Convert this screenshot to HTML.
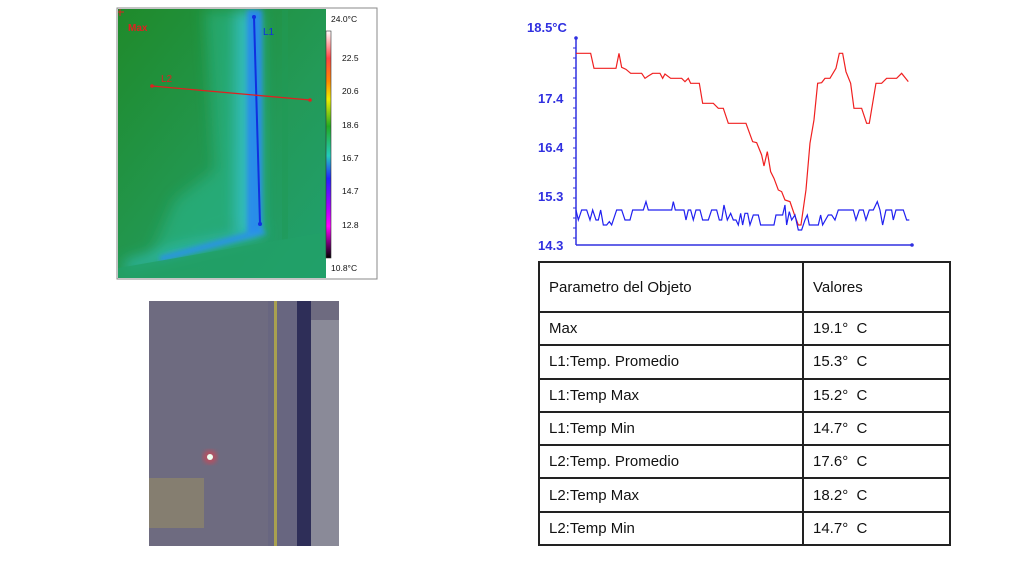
<!DOCTYPE html>
<html><head><meta charset="utf-8"><style>
html,body{margin:0;padding:0;background:#fff;width:1018px;height:567px;overflow:hidden}
svg{position:absolute;left:0;top:0}
table{position:absolute;left:538px;top:261px;width:413px;border-collapse:collapse;font-family:"Liberation Sans",sans-serif;font-size:15px;color:#111}
td{border:2px solid #222;padding:0 0 0 9px;height:31.3px}
tr.h td{height:48px}
</style></head><body>
<svg width="1018" height="567" viewBox="0 0 1018 567">
<defs>
<filter id="b" x="-20%" y="-20%" width="140%" height="140%"><feGaussianBlur stdDeviation="7"/></filter>
<filter id="b2"><feGaussianBlur stdDeviation="2.5"/></filter>
<linearGradient id="cb" x1="0" y1="0" x2="0" y2="1">
<stop offset="0" stop-color="#fff"/><stop offset="0.12" stop-color="#f44"/><stop offset="0.22" stop-color="#f80"/><stop offset="0.3" stop-color="#ee0"/><stop offset="0.42" stop-color="#2a2"/><stop offset="0.55" stop-color="#2cb"/><stop offset="0.65" stop-color="#22f"/><stop offset="0.78" stop-color="#a0f"/><stop offset="0.86" stop-color="#f0f"/><stop offset="1" stop-color="#000"/>
</linearGradient>
<linearGradient id="gbg" x1="0" y1="0" x2="1" y2="1">
<stop offset="0" stop-color="#1f8a2a"/><stop offset="0.6" stop-color="#239a58"/><stop offset="1" stop-color="#20a070"/>
</linearGradient>
<clipPath id="tc"><rect x="118" y="9" width="208" height="269"/></clipPath>
<clipPath id="pc"><rect x="149" y="301" width="190" height="245"/></clipPath>
</defs>
<rect x="117" y="8" width="260" height="271" fill="#fff" stroke="#888"/>
<g clip-path="url(#tc)">
<rect x="118" y="9" width="208" height="269" fill="url(#gbg)"/>
<g filter="url(#b)">
<polygon points="205,10 240,10 240,225 150,258 175,200 215,170" fill="#2ab890" opacity="0.55"/>
<polygon points="125,262 258,226 266,234 125,272" fill="#30c0c0" opacity="0.9"/>
<rect x="236" y="10" width="24" height="220" fill="#35c0c8" opacity="0.9"/>
</g>
<g filter="url(#b2)">
<rect x="247" y="10" width="15" height="222" fill="#2a88f0" opacity="0.9"/>
<polygon points="160,256 262,228 266,234 160,262" fill="#2a90ee" opacity="0.85"/>
</g>
<rect x="282" y="10" width="6" height="230" fill="#1f9a55" opacity="0.5"/>
<polygon points="118,268 326,232 326,278 118,278" fill="#22a068" opacity="0.8"/>
</g>
<line x1="254" y1="17" x2="260" y2="224" stroke="#1030e0" stroke-width="2"/>
<circle cx="254" cy="17" r="2" fill="#1030e0"/><circle cx="260" cy="224" r="2" fill="#1030e0"/>
<line x1="152" y1="86" x2="310" y2="100" stroke="#e02020" stroke-width="1.3"/>
<circle cx="152" cy="86" r="1.8" fill="#e02020"/><circle cx="310" cy="100" r="1.8" fill="#e02020"/>
<text x="263" y="35" font-family="Liberation Sans" font-size="10" fill="#1030e0">L1</text>
<text x="161" y="82" font-family="Liberation Sans" font-size="10" fill="#e02020">L2</text>
<text x="128" y="31" font-family="Liberation Sans" font-size="10" font-weight="bold" fill="#e02020">Max</text>
<path d="M118,12h6M120,9v7" stroke="#e02020"/>
<rect x="326" y="31" width="5" height="227" fill="url(#cb)" stroke="#333" stroke-width="0.6"/>
<g font-family="Liberation Sans" font-size="8.5" fill="#111">
<text x="331" y="22">24.0°C</text><text x="342" y="61">22.5</text><text x="342" y="94">20.6</text><text x="342" y="128">18.6</text><text x="342" y="161">16.7</text><text x="342" y="194">14.7</text><text x="342" y="228">12.8</text><text x="331" y="271">10.8°C</text>
</g>
<g clip-path="url(#pc)">
<rect x="149" y="301" width="190" height="245" fill="#6e6b80"/>
<rect x="268" y="301" width="30" height="245" fill="#686680"/>
<rect x="274" y="301" width="3" height="245" fill="#a8a050"/>
<rect x="297" y="301" width="14" height="245" fill="#2e2e58"/>
<rect x="311" y="320" width="28" height="226" fill="#8a8a98"/>
<rect x="149" y="478" width="55" height="50" fill="#857e70"/>
<circle cx="210" cy="457" r="7" fill="#e04050" opacity="0.6" filter="url(#b2)"/>
<circle cx="210" cy="457" r="3" fill="#eefff0"/>
</g>
<g font-family="Liberation Sans" font-size="13" font-weight="bold" fill="#3030e0">
<text x="527" y="32">18.5°C</text><text x="538" y="103">17.4</text><text x="538" y="152">16.4</text><text x="538" y="201">15.3</text><text x="538" y="250">14.3</text>
</g>
<g stroke="#3030e0" stroke-width="1.5">
<line x1="576" y1="38" x2="576" y2="245"/><line x1="576" y1="245" x2="912" y2="245"/>
</g>
<circle cx="576" cy="38" r="1.8" fill="#3030e0"/><circle cx="912" cy="245" r="1.8" fill="#3030e0"/>
<g stroke="#3030e0" stroke-width="1">
<path d="M573,48h3M573,58h3M573,68h3M573,78h3M573,88h3M573,98h3M573,108h3M573,118h3M573,128h3M573,138h3M573,148h3M573,158h3M573,168h3M573,178h3M573,188h3M573,198h3M573,208h3M573,218h3M573,228h3M573,238h3"/>
</g>
<g transform="translate(520,10) scale(0.3333)" fill="none" stroke-width="3.6">
<polyline stroke="#f02020" points="168,130 212,130 222,175 288,175 297,130 305,172 318,178 332,190 365,190 375,205 385,198 398,190 420,190 428,205 435,192 452,205 485,205 495,215 505,205 512,220 538,220 548,280 580,280 595,295 610,295 625,340 678,340 698,395 710,398 725,435 732,468 742,425 752,485 762,505 775,540 785,545 795,570 810,575 822,610 835,645 843,645 858,540 870,400 882,330 893,220 905,218 915,205 930,205 948,175 958,130 968,130 978,185 992,220 1002,295 1025,295 1040,340 1048,340 1068,220 1085,220 1100,205 1130,205 1145,190 1165,215"/>
<polyline stroke="#2020f0" points="168,600 175,630 185,600 200,600 210,630 218,600 228,630 235,630 242,600 250,645 260,645 268,635 275,645 290,600 305,600 315,630 330,630 338,600 370,600 378,575 385,600 455,600 460,575 466,600 492,600 498,630 505,600 512,600 520,630 528,600 540,600 548,630 565,630 575,600 590,600 598,630 605,630 612,585 622,630 632,610 640,630 648,630 655,645 662,610 668,645 675,610 683,610 690,645 700,615 715,615 722,645 762,645 768,615 788,615 795,585 800,645 808,605 815,630 825,615 835,660 845,660 855,630 862,615 868,645 895,645 902,615 908,645 925,615 935,615 945,630 955,600 1000,600 1008,630 1018,600 1030,600 1038,630 1048,600 1060,600 1072,575 1080,600 1088,645 1098,600 1115,600 1120,630 1128,600 1150,600 1160,630 1168,630"/>
</g>
</svg>
<table>
<tr class="h"><td style="width:253px">Parametro del Objeto</td><td>Valores</td></tr>
<tr><td>Max</td><td>19.1°&nbsp; C</td></tr>
<tr><td>L1:Temp. Promedio</td><td>15.3°&nbsp; C</td></tr>
<tr><td>L1:Temp Max</td><td>15.2°&nbsp; C</td></tr>
<tr><td>L1:Temp Min</td><td>14.7°&nbsp; C</td></tr>
<tr><td>L2:Temp. Promedio</td><td>17.6°&nbsp; C</td></tr>
<tr><td>L2:Temp Max</td><td>18.2°&nbsp; C</td></tr>
<tr><td>L2:Temp Min</td><td>14.7°&nbsp; C</td></tr>
</table>
</body></html>
